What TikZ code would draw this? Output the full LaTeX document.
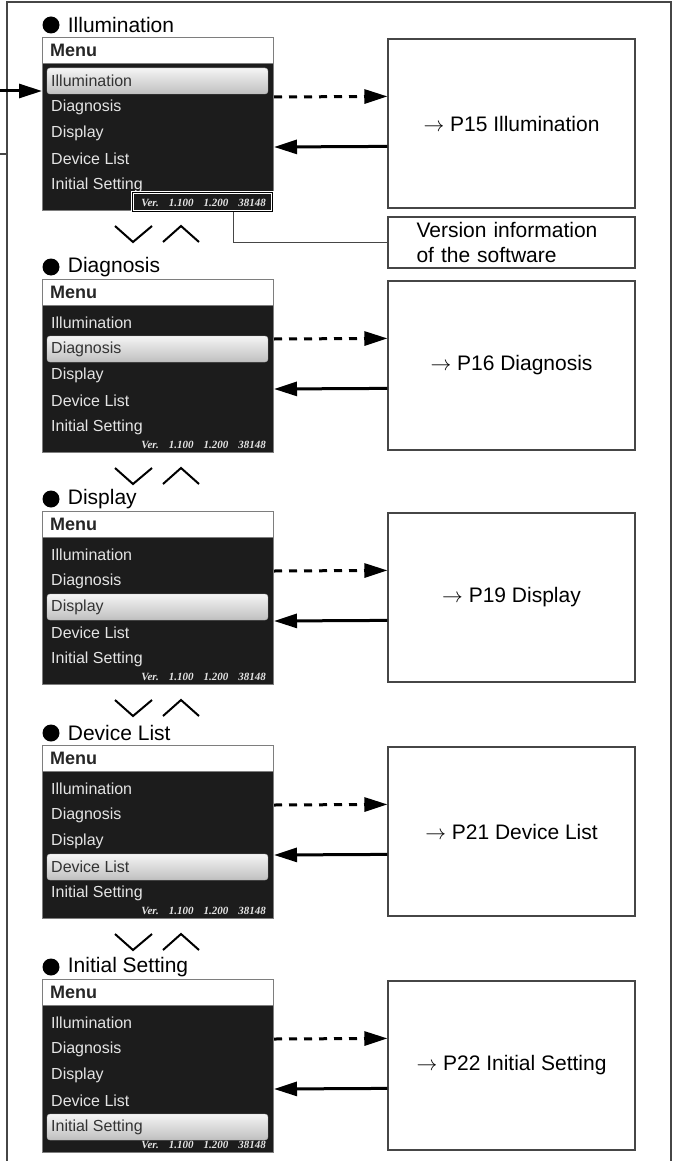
\documentclass[tikz,border=0pt]{standalone}
\usepackage{fontspec}
\setmainfont{Liberation Sans}
\newfontfamily\verfont{Liberation Serif}
\usetikzlibrary{arrows.meta,positioning}
\definecolor{screen}{RGB}{28,28,28}
\definecolor{itemfg}{RGB}{228,228,228}
\definecolor{edge}{RGB}{70,70,70}
\newcommand{\verstr}{Ver.\hspace{10pt}1.100\hspace{10pt}1.200\hspace{10pt}38148}

\begin{document}
\begin{tikzpicture}[
  x=1pt,y=-1pt,
  bullet/.style={circle,fill=black,minimum size=17pt,inner sep=0pt},
  paneltitle/.style={inner sep=0pt,font=\fontsize{21}{25}\selectfont},
  menubox/.style={draw=edge!70,line width=1pt,fill=screen,anchor=north west,minimum width=231pt,minimum height=173pt,inner sep=0pt},
  menuhead/.style={draw=edge!70,line width=1pt,fill=white,anchor=north west,minimum width=231pt,minimum height=26pt,inner sep=0pt},
  menulabel/.style={inner sep=0pt,text=black!85,font=\bfseries\fontsize{18}{21}\selectfont},
  menuitem/.style={inner sep=0pt,anchor=west,font=\fontsize{16}{19}\selectfont},
  selbar/.style={rounded corners=3pt,draw=gray!60,top color=gray!8,bottom color=gray!50,minimum width=221pt,minimum height=26pt,inner sep=0pt},
  vertext/.style={inner sep=0pt,anchor=east,text=itemfg,font=\verfont\bfseries\itshape\fontsize{11}{13}\selectfont},
  verbox/.style={draw=white,line width=1pt,double=black,double distance=1pt,minimum width=140pt,minimum height=18pt,inner sep=0pt},
  target/.style={draw=edge,line width=1.2pt,fill=white,minimum width=247pt,minimum height=169pt,inner sep=0pt,font=\fontsize{21}{25}\selectfont},
  fwdarrow/.style={line width=3pt,dash pattern=on 8pt off 7pt,-{Triangle[length=23pt,width=14pt]}},
  backarrow/.style={line width=3pt,-{Triangle[length=23pt,width=14pt]}},
  chev/.style={line width=2pt},
  pageframe/.style={draw=edge,line width=1.5pt},
  callout/.style={draw=edge,line width=1pt}
]
\useasboundingbox (0,0) rectangle (675,1161);
% outer frame
\draw[pageframe] (7,1161) -- (7,2) -- (671,2) -- (671,1161);
% one panel per menu entry
\foreach \i/\ty/\ttl/\pgref in {1/37/Illumination/P15 Illumination,2/279/Diagnosis/P16 Diagnosis,3/511/Display/P19 Display,4/745/Device List/P21 Device List,5/979/Initial Setting/P22 Initial Setting}{
  \node[bullet] (dot\i) at (51,\ty-12) {};
  \node[paneltitle] (title\i) [right=8pt of dot\i] {\ttl};
  \node[menubox] (menu\i) at (42,\ty) {};
  \node[menuhead] (head\i) at (menu\i.north west) {};
  \node[menulabel] (lbl\i) [right=8pt of head\i.west] {Menu};
  \foreach \k/\entry in {1/Illumination,2/Diagnosis,3/Display,4/Device List,5/Initial Setting}{
    \ifnum\k=\i
      \node[selbar] (sel\i) at (157.5,\ty+18+26*\k) {};
      \def\fg{black!80}
    \else
      \def\fg{itemfg}
    \fi
    \node[menuitem,text=\fg] (item\i\k) at (51,\ty+18+26*\k) {\entry};
  }
  \node[vertext] (ver\i) at (266,\ty+166) {\verstr};
  \node[target] (page\i) at (511.5,\ty+86.5) {$\rightarrow$ \pgref};
  \draw[fwdarrow] ([yshift=-60pt]menu\i.north east) -- ([yshift=-58pt]page\i.north west);
  \draw[backarrow] ([yshift=-108pt]page\i.north west) -- ([yshift=-110pt]menu\i.north east);
  \ifnum\i<5
    \draw[chev] ([xshift=73pt,yshift=-15pt]menu\i.south west) -- ++(18,16) -- ++(19,-16);
    \draw[chev] ([xshift=121pt,yshift=-31pt]menu\i.south west) -- ++(18,-16) -- ++(18,16);
  \fi
}
% version callout
\node[verbox] (verbox) at (202,202) {};
\node[target,minimum height=51pt,text width=190pt,align=left] (verinfo) at (511.5,242.5) {Version information\\of the software};
\draw[callout] ([xshift=31pt]verbox.south) |- (verinfo.west);
% entry and exit on the left
\coordinate (entry) at (0,91);
\draw[backarrow] (entry) -- (entry -| menu1.west);
\coordinate (exit) at (0,154);
\coordinate (exitjoin) at (7,154);
\draw[pageframe] (exit) -- (exitjoin);
\end{tikzpicture}
\end{document}
